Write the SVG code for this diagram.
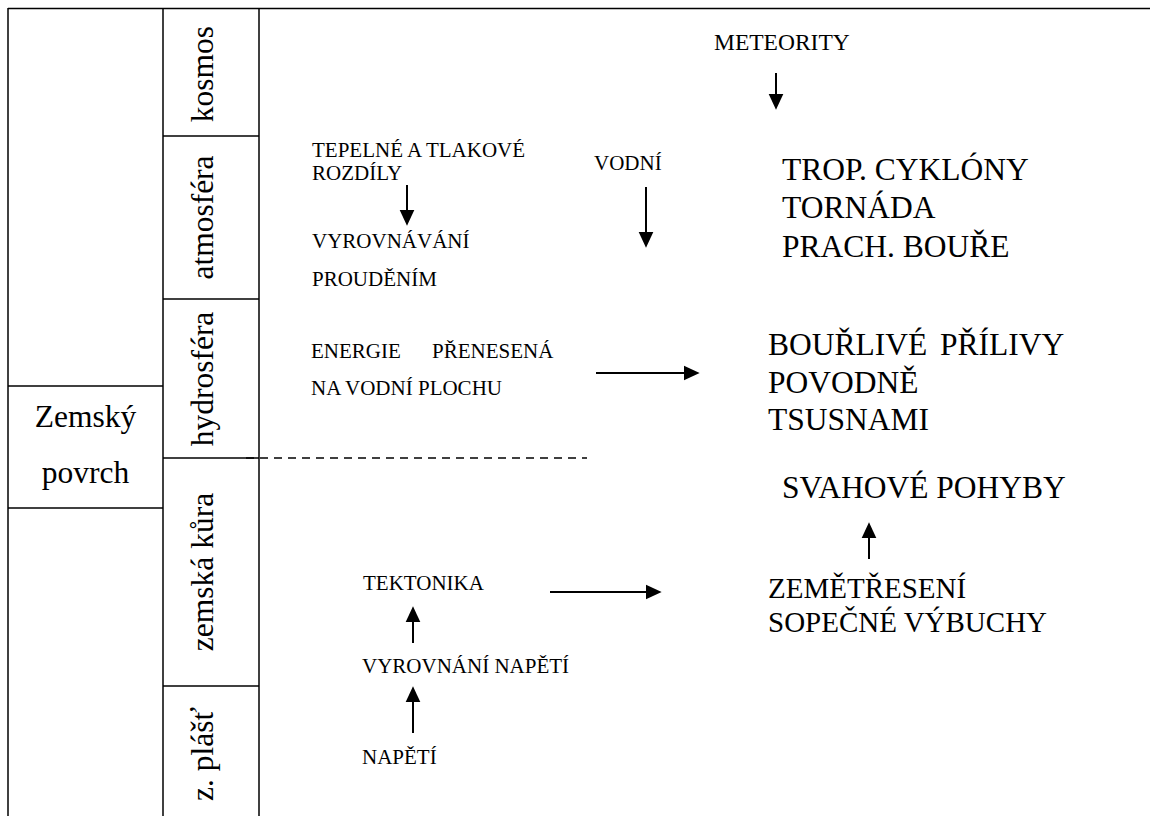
<svg xmlns="http://www.w3.org/2000/svg" width="1150" height="816" viewBox="0 0 1150 816">
<defs>
<style>
text{fill:#000;font-family:"Liberation Serif","Times New Roman",serif}
.big{font-size:31.5px}
.mid{font-size:29px}
.sm{font-size:21px}
.met{font-size:23.5px}
.frame{stroke:#000;stroke-width:1.5;fill:none}
.arr{stroke:#000;stroke-width:2;fill:none;marker-end:url(#ah)}
.dash{stroke:#000;stroke-width:1.5;stroke-dasharray:8 6;fill:none}
</style>
<marker id="ah" markerUnits="userSpaceOnUse" markerWidth="16" markerHeight="16" viewBox="0 0 15 14" refX="5" refY="7" orient="auto">
<path d="M0,0 L15,7 L0,14 Z" fill="#000"/>
</marker>
</defs>
<rect width="1150" height="816" fill="#fff"/>
<g id="frame">
<line class="frame" x1="8" y1="8.5" x2="1150" y2="8.5"/>
<line class="frame" x1="8" y1="8" x2="8" y2="816"/>
<line class="frame" x1="163" y1="8" x2="163" y2="816"/>
<line class="frame" x1="259" y1="8" x2="259" y2="816"/>
</g>
<g id="zemsky-povrch">
<line class="frame" x1="8" y1="386" x2="163" y2="386"/>
<line class="frame" x1="8" y1="508" x2="163" y2="508"/>
<text class="big" x="85.5" y="427" text-anchor="middle">Zemský</text>
<text class="big" x="85.5" y="483" text-anchor="middle">povrch</text>
</g>
<g id="kosmos">
<line class="frame" x1="163" y1="136" x2="259" y2="136"/>
<text class="big" transform="translate(213,74) rotate(-90)" text-anchor="middle">kosmos</text>
</g>
<g id="atmosfera">
<line class="frame" x1="163" y1="299" x2="259" y2="299"/>
<text class="big" transform="translate(213,217.5) rotate(-90)" text-anchor="middle">atmosféra</text>
</g>
<g id="hydrosfera">
<line class="frame" x1="163" y1="458" x2="259" y2="458"/>
<text class="big" transform="translate(213,379) rotate(-90)" text-anchor="middle">hydrosféra</text>
</g>
<g id="zemska-kura">
<line class="frame" x1="163" y1="686" x2="259" y2="686"/>
<text class="big" transform="translate(213,572) rotate(-90)" text-anchor="middle">zemská kůra</text>
</g>
<g id="zemsky-plast">
<text class="big" transform="translate(213,754) rotate(-90)" text-anchor="middle">z. plášť</text>
</g>
<g id="meteority"><text class="met" x="714" y="50">METEORITY</text></g>
<g id="tepelne">
<text class="sm" x="312" y="157">TEPELNÉ A TLAKOVÉ</text>
<text class="sm" x="312" y="180">ROZDÍLY</text>
</g>
<g id="vyrovnavani">
<text class="sm" x="312" y="248">VYROVNÁVÁNÍ</text>
<text class="sm" x="312" y="286">PROUDĚNÍM</text>
</g>
<g id="vodni"><text class="sm" x="594" y="170">VODNÍ</text></g>
<g id="atm-jevy">
<text class="big" x="782" y="180">TROP. CYKLÓNY</text>
<text class="big" x="782" y="218">TORNÁDA</text>
<text class="big" x="782" y="257">PRACH. BOUŘE</text>
</g>
<g id="energie">
<text class="sm" x="311" y="358">ENERGIE<tspan x="432">PŘENESENÁ</tspan></text>
<text class="sm" x="311" y="395">NA VODNÍ PLOCHU</text>
</g>
<g id="hydro-jevy">
<text class="big" x="768" y="355">BOUŘLIVÉ<tspan x="940">PŘÍLIVY</tspan></text>
<text class="big" x="768" y="393">POVODNĚ</text>
<text class="big" x="768" y="430">TSUSNAMI</text>
</g>
<g id="svahove"><text class="big" x="782" y="498">SVAHOVÉ POHYBY</text></g>
<g id="zemetreseni">
<text class="mid" x="768" y="598">ZEMĚTŘESENÍ</text>
<text class="mid" x="768" y="632">SOPEČNÉ VÝBUCHY</text>
</g>
<g id="tektonika"><text class="sm" x="363" y="590">TEKTONIKA</text></g>
<g id="vyrovnani-napeti"><text class="sm" x="362" y="673">VYROVNÁNÍ NAPĚTÍ</text></g>
<g id="napeti"><text class="sm" x="362" y="764">NAPĚTÍ</text></g>
<g id="connectors">
<line class="dash" x1="246" y1="458" x2="587" y2="458"/>
<line class="arr" x1="776" y1="73" x2="776" y2="99"/>
<line class="arr" x1="407" y1="185" x2="407" y2="215"/>
<line class="arr" x1="646" y1="187" x2="646" y2="237"/>
<line class="arr" x1="596" y1="373" x2="689" y2="373"/>
<line class="arr" x1="550" y1="592" x2="651" y2="592"/>
<line class="arr" x1="413" y1="643" x2="413" y2="617"/>
<line class="arr" x1="413" y1="733" x2="413" y2="697"/>
<line class="arr" x1="869" y1="559" x2="869" y2="533"/>
</g>
</svg>
